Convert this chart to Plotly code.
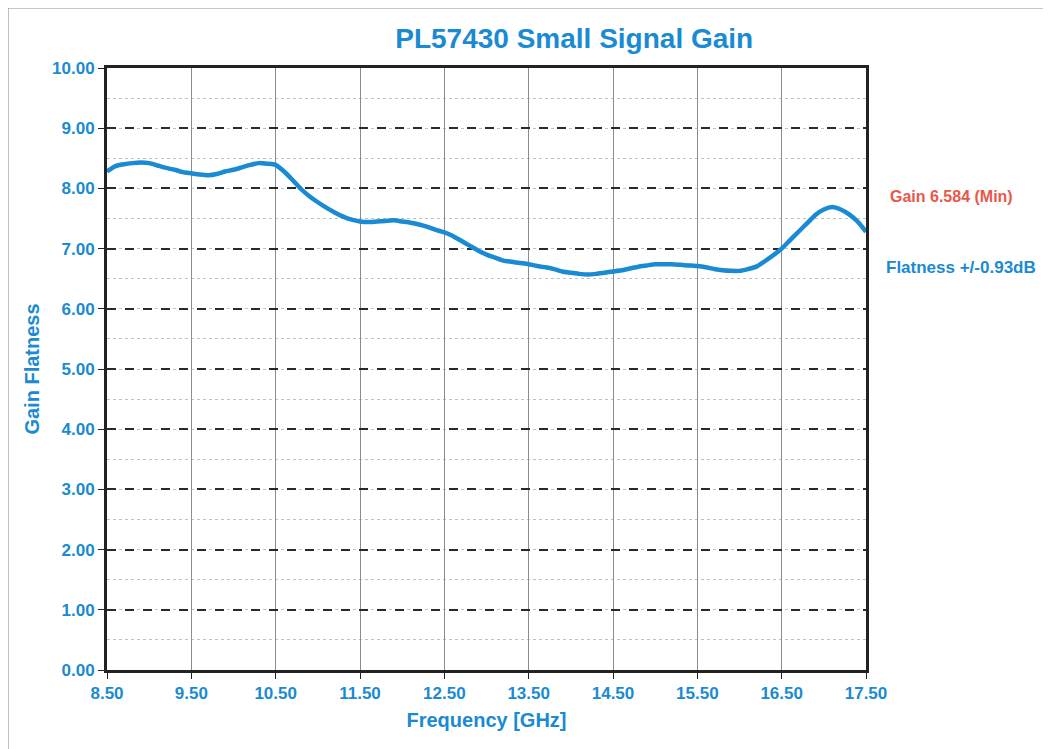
import plotly.graph_objects as go

# frequency [GHz] and gain [dB]
freq = [8.50, 8.55, 8.60, 8.70, 8.80, 8.90, 9.00, 9.10, 9.20, 9.30, 9.40, 9.50,
        9.60, 9.70, 9.80, 9.90, 10.00, 10.10, 10.20, 10.30, 10.40, 10.50, 10.60,
        10.70, 10.80, 10.90, 11.00, 11.10, 11.20, 11.30, 11.40, 11.50, 11.60,
        11.70, 11.80, 11.90, 12.00, 12.10, 12.20, 12.30, 12.40, 12.50, 12.60,
        12.70, 12.80, 12.90, 13.00, 13.10, 13.20, 13.30, 13.40, 13.50, 13.60,
        13.70, 13.80, 13.90, 14.00, 14.10, 14.20, 14.30, 14.40, 14.50, 14.60,
        14.70, 14.80, 14.90, 15.00, 15.10, 15.20, 15.30, 15.40, 15.50, 15.60,
        15.70, 15.80, 15.90, 16.00, 16.10, 16.20, 16.30, 16.40, 16.50, 16.60,
        16.70, 16.80, 16.90, 17.00, 17.10, 17.20, 17.30, 17.40, 17.50]
gain = [8.28, 8.33, 8.37, 8.40, 8.42, 8.43, 8.42, 8.38, 8.34, 8.31, 8.27, 8.25,
        8.23, 8.22, 8.24, 8.28, 8.31, 8.35, 8.39, 8.42, 8.41, 8.39, 8.28,
        8.14, 7.99, 7.87, 7.77, 7.68, 7.60, 7.53, 7.48, 7.45, 7.44,
        7.45, 7.46, 7.47, 7.45, 7.43, 7.40, 7.36, 7.31, 7.27, 7.21,
        7.13, 7.05, 6.97, 6.90, 6.85, 6.80, 6.78, 6.76, 6.74, 6.71,
        6.69, 6.66, 6.62, 6.60, 6.58, 6.57, 6.58, 6.60, 6.62, 6.64,
        6.67, 6.70, 6.72, 6.74, 6.74, 6.74, 6.73, 6.72, 6.71, 6.69,
        6.66, 6.64, 6.63, 6.63, 6.66, 6.70, 6.79, 6.89, 7.00, 7.14,
        7.28, 7.42, 7.56, 7.65, 7.69, 7.65, 7.57, 7.45, 7.28]

x_ticks = [8.5, 9.5, 10.5, 11.5, 12.5, 13.5, 14.5, 15.5, 16.5, 17.5]
y_ticks = [0, 1, 2, 3, 4, 5, 6, 7, 8, 9, 10]

BLUE = '#1a8ad2'
RED = '#e8584a'
FONT = 'Liberation Sans, Arial'

fig = go.Figure()
fig.add_trace(go.Scatter(x=freq, y=gain, mode='lines',
                         line=dict(color=BLUE, width=4.5, shape='spline', smoothing=0.6),
                         showlegend=False))

fig.update_layout(
    width=1043, height=741,
    margin=dict(l=99, r=185, t=60, b=79),
    paper_bgcolor='white', plot_bgcolor='white',
    font=dict(family=FONT, color=BLUE),
    title=dict(text='<b>PL57430 Small Signal Gain</b>', x=0.5429, xanchor='center',
               y=0.9595, yanchor='middle', yref='container',
               font=dict(size=28, color=BLUE, family=FONT)),
    showlegend=False,
)

fig.update_xaxes(
    range=[8.5, 17.5], tickvals=x_ticks, ticktext=[f'<b>{v:.2f}</b>' for v in x_ticks],
    tickfont=dict(size=17, color=BLUE), ticks='outside', ticklen=6, tickcolor='#222',
    showgrid=True, gridcolor='#8c8c8c', gridwidth=1,
    showline=True, linecolor='#222', linewidth=3, mirror=True, zeroline=False,
    title=dict(text='<b>Frequency [GHz]</b>', font=dict(size=20, color=BLUE), standoff=11),
)
fig.update_yaxes(
    range=[0, 10], tickvals=y_ticks, ticktext=[f'<b>{v:.2f}</b>' for v in y_ticks],
    tickfont=dict(size=17, color=BLUE), ticks='outside', ticklen=6, tickcolor='#222',
    showgrid=True, gridcolor='#2a2a2a', gridwidth=1.5, griddash='dash',
    minor=dict(dtick=0.5, showgrid=True, gridcolor='#c0c0c0', gridwidth=1, griddash='dot'),
    showline=True, linecolor='#222', linewidth=3, mirror=True, zeroline=False,
    title=dict(text='<b>Gain Flatness</b>', font=dict(size=20, color=BLUE), standoff=8),
)

fig.add_annotation(text='<b>Gain 6.584 (Min)</b>', xref='paper', yref='paper',
                   x=1.029, y=0.787, xanchor='left', yanchor='middle', showarrow=False,
                   font=dict(size=16, color=RED, family=FONT))
fig.add_annotation(text='<b>Flatness +/-0.93dB</b>', xref='paper', yref='paper',
                   x=1.0237, y=0.669, xanchor='left', yanchor='middle', showarrow=False,
                   font=dict(size=17, color=BLUE, family=FONT))

# scanned page border (top and left edges)
fig.add_shape(type='line', xref='paper', yref='paper', x0=-0.1304, x1=1.25, y0=1.0997, y1=1.0997,
              line=dict(color='#888', width=1))
fig.add_shape(type='line', xref='paper', yref='paper', x0=-0.1304, x1=-0.1304, y0=-0.14, y1=1.0997,
              line=dict(color='#888', width=1))

fig.write_html('out.html')
